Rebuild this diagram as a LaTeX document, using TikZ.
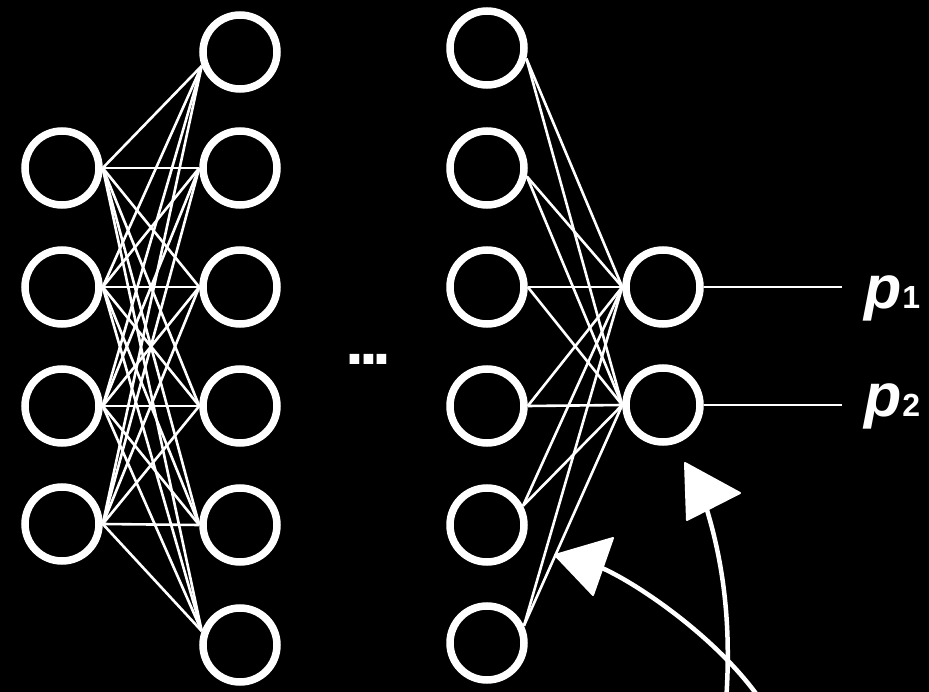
\documentclass[tikz,border=0pt]{standalone}
\usepackage{fontspec}
\setmainfont{Liberation Sans}
\begin{document}
\begin{tikzpicture}[x=1pt,y=-1pt,
  neuron/.style={circle,draw=white,line width=7.5pt,minimum size=74pt,inner sep=0pt},
  link/.style={draw=white,line width=2.6pt},
  shaft/.style={draw=white,line width=4.5pt,line cap=round},
  headfill/.style={fill=white,draw=white,line width=2pt,line join=round},
  lbl/.style={anchor=base west,inner sep=0pt,text=white}]
\fill[black] (0,0) rectangle (929,692);
\useasboundingbox (0,0) rectangle (929,692);
% layers
\foreach \i/\y in {1/168,2/287,3/406,4/524}
  \node[neuron] (a\i) at (62,\y) {};
\foreach \i/\y in {1/52,2/168,3/287,4/406,5/525,6/645}
  \node[neuron] (b\i) at (240,\y) {};
\foreach \i/\y in {1/48,2/168,3/287,4/406,5/525,6/643}
  \node[neuron] (c\i) at (487,\y) {};
\node[neuron] (o1) at (663,287) {};
\node[neuron] (o2) at (663,405) {};
% first layer connections
\foreach \i in {1,...,4}{
  \draw[link] (a\i.east) -- (b1.200);
  \foreach \j in {2,...,5}
    \draw[link] (a\i.east) -- (b\j.west);
  \draw[link] (a\i.east) -- (b6.160);
}
% last layer connections
\foreach \j/\ang in {1/-15,2/-12,3/0,4/0,5/28,6/25}{
  \draw[link] (c\j.\ang) -- (o1.west);
  \draw[link] (c\j.\ang) -- (o2.west);
}
% dots
\node[lbl,anchor=base] (dots) at (368.5,365) {\fontsize{68}{68}\selectfont\bfseries .\kern-5.4pt.\kern-5.4pt.};
% outputs
\node[lbl] (p1) at (864,309) {\fontsize{61}{61}\selectfont\bfseries\itshape p\kern1pt\fontsize{32}{32}\selectfont\upshape 1};
\node[lbl] (p2) at (864,417) {\fontsize{61}{61}\selectfont\bfseries\itshape p\kern1pt\fontsize{32}{32}\selectfont\upshape 2};
\coordinate (e1) at (842,287);
\coordinate (e2) at (842,405);
\draw[link] (o1.east) -- (e1);
\draw[link] (o2.east) -- (e2);
% sketchy arrows
\coordinate (s1) at (762,702);
\coordinate (t1) at (602,568);
\coordinate (s2) at (726,702);
\coordinate (t2) at (707,510);
\draw[shaft] (s1) .. controls (720,640) and (640,585) .. (t1);
\draw[shaft] (s2) .. controls (732,620) and (722,560) .. (t2);
\coordinate (h1a) at (555,555);
\coordinate (h1b) at (613,538);
\coordinate (h1c) at (593,595);
\coordinate (h2a) at (685,463);
\coordinate (h2b) at (740,493);
\coordinate (h2c) at (687,520);
\filldraw[headfill] (h1a) -- (h1b) -- (h1c) -- cycle;
\filldraw[headfill] (h2a) -- (h2b) -- (h2c) -- cycle;
\end{tikzpicture}
\end{document}
